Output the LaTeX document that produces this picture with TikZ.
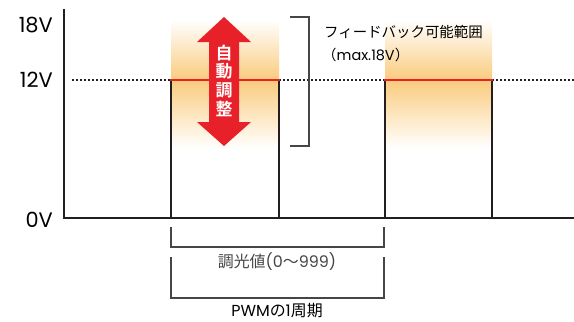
\documentclass[tikz,border=0pt]{standalone}
\usepackage{fontspec}
\newfontfamily\jp{Noto Sans CJK JP}
\newfontfamily\jpb{Noto Sans CJK JP Bold}
\newfontfamily\lat{Poppins}
\definecolor{sigred}{RGB}{232,32,42}
\definecolor{glow}{RGB}{250,203,125}
\definecolor{lineblk}{RGB}{35,31,32}
\definecolor{brk}{RGB}{70,70,70}
\tikzset{
  sig/.style={line width=2.4bp, color=lineblk},
  topline/.style={line width=2.6bp, color=sigred},
  ref/.style={line width=1.6bp, dash pattern=on 1.6bp off 2.4bp, color=lineblk},
  bracket/.style={line width=1.1bp, color=brk},
  vlabel/.style={font=\lat\fontsize{21}{21}\selectfont, anchor=east, inner sep=0pt},
  jplabel/.style={font=\jp\fontsize{14.5}{17}\selectfont, inner sep=0pt}
}
\begin{document}
\begin{tikzpicture}[x=1bp,y=-1bp]
\useasboundingbox (0,0) rectangle (574,321);
% glow
\foreach \xa/\xb in {171/279, 385/492}{
  \shade[top color=white, bottom color=glow] (\xa,20) rectangle (\xb,80);
  \shade[top color=glow, bottom color=white] (\xa,80) rectangle (\xb,148);
}
% reference dotted line at 12V
\draw[ref] (72,80) -- (171,80);
\draw[ref] (279,80) -- (385,80);
\draw[ref] (492,80) -- (574,80);
% signal
\coordinate (ax) at (64,9);
\coordinate (p0) at (64,218);
\coordinate (a0) at (171,218); \coordinate (a1) at (171,80);
\coordinate (a2) at (279,80);  \coordinate (a3) at (279,218);
\coordinate (b0) at (385,218); \coordinate (b1) at (385,80);
\coordinate (b2) at (492,80);  \coordinate (b3) at (492,218);
\coordinate (pe) at (574,218);
\draw[sig] (ax) -- ([yshift=-1.2bp]p0);
\draw[sig] ([xshift=-1.2bp]p0) -- (pe);
\draw[sig] (a0) -- (a1);
\draw[sig] (a3) -- (a2);
\draw[sig] (b0) -- (b1);
\draw[sig] (b3) -- (b2);
\draw[topline] ([xshift=-1.2bp]a1) -- ([xshift=1.2bp]a2);
\draw[topline] ([xshift=-1.2bp]b1) -- ([xshift=1.2bp]b2);
% labels
\node[vlabel] (l18) at (53,25) {18V};
\node[vlabel] (l12) at (53,80) {12V};
\node[vlabel] (l0) at (53,220) {0V};
% red double arrow
\fill[sigred] (224,17) -- (251,42) -- (239,42) -- (239,122) -- (251,122) -- (224,146)
  -- (197,122) -- (209,122) -- (209,42) -- (197,42) -- cycle;
\node[font=\jpb\fontsize{17}{18.7}\selectfont, text=white, align=center, inner sep=0pt] (auto) at (224,80.5) {自\\動\\調\\整};
% feedback bracket
\draw[bracket] (290,17) -- (309,17) -- (309,146) -- (290,146);
\node[jplabel, anchor=west] (fb) at (324,32) {フィードバック可能範囲};
\node[jplabel, anchor=west] (fbm) at (322,55) {（{\lat max.18V}）};
% lower brackets
\draw[bracket] (171,227) -- (171,247) -- (384,247) -- (384,227);
\node[jplabel, text=brk, font=\jp\fontsize{16}{18}\selectfont] (dim) at (277,262) {調光値{\lat (0}〜{\lat 999)}};
\draw[bracket] (171,257) -- (171,298) -- (384,298) -- (384,257);
\node[jplabel, font=\jp\fontsize{16}{18}\selectfont] (pwm) at (277,311) {{\lat PWM}の{\lat 1}周期};
\end{tikzpicture}
\end{document}
